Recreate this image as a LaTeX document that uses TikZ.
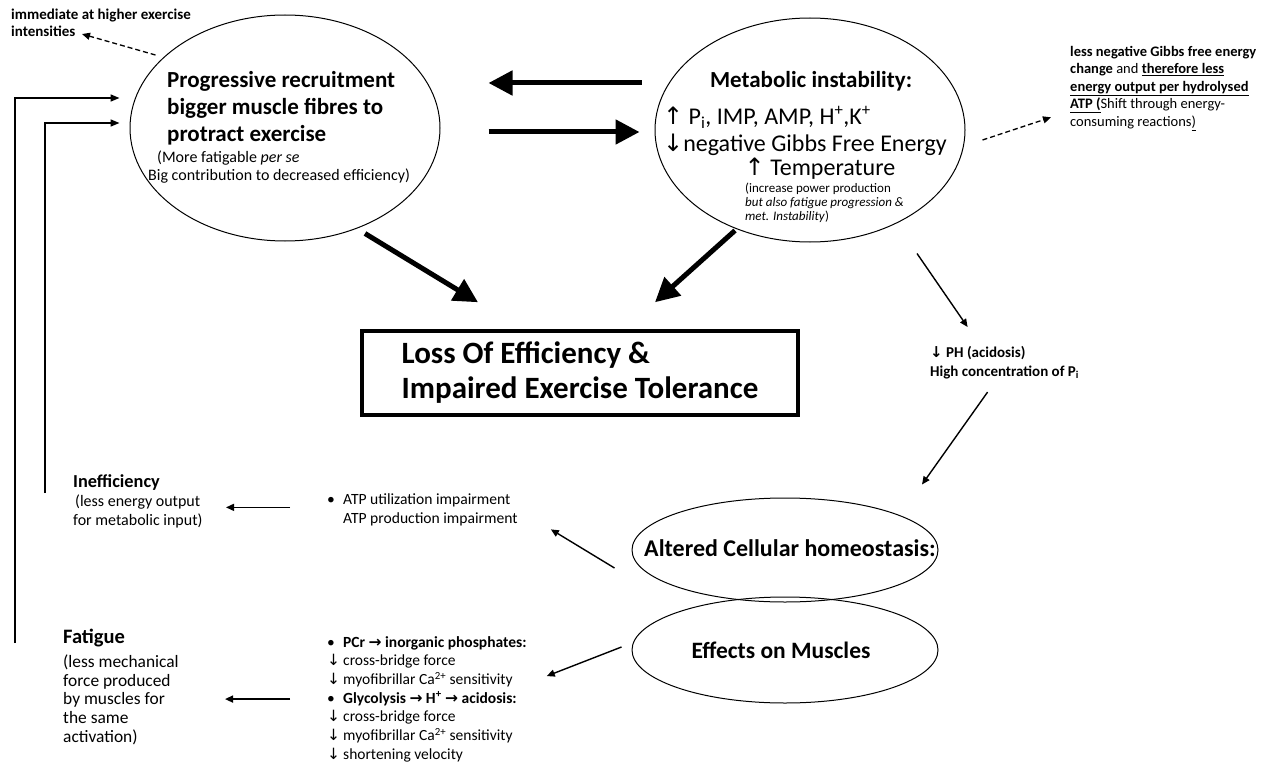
\documentclass[tikz,border=0pt]{standalone}
\usepackage{fontspec}
\setmainfont{Carlito}
\newfontfamily\symf{DejaVu Sans}
\usetikzlibrary{arrows.meta,positioning,shapes.geometric}
\newcommand{\uparr}{{\symf ↑}}
\newcommand{\dnarr}{{\symf ↓}}
\newcommand{\rtarr}{{\symf\bfseries →}}
\newcommand{\fs}[2]{\fontsize{#1}{#2}\selectfont}
\tikzset{
  oval/.style={draw, ellipse, line width=1pt, inner sep=0pt},
  lossbox/.style={draw, line width=3.5pt, inner sep=0pt, align=left},
  txt/.style={inner sep=0pt, align=left, anchor=north west},
  thickarr/.style={line width=5pt, -{Triangle[length=24pt,width=24pt]}},
  thinarr/.style={line width=1.4pt, -{Triangle[length=8pt,width=7pt]}},
  dasharr/.style={line width=1.3pt, dash pattern=on 5pt off 3pt, -{Triangle[length=8pt,width=7pt]}},
  fbline/.style={line width=1.6pt, -{Triangle[length=9pt,width=7pt]}}
}
\begin{document}
\begin{tikzpicture}[x=1pt, y=-1pt]
\useasboundingbox (0,0) rectangle (1266,765);
% upper ellipses
\node[oval, minimum width=310pt, minimum height=226pt] (prog) at (285,128) {};
\node[txt, font={\fs{23}{27}\bfseries}] (progtitle) at (167,71) {Progressive recruitment\\bigger muscle fibres to\\protract exercise};
\node[txt, font={\fs{16}{17.5}}] (progsub) at (148,151) {\hspace*{9pt}(More fatigable \textit{per se}\\Big contribution to decreased efficiency)};
\node[oval, minimum width=310pt, minimum height=224pt] (met) at (810,130) {};
\node[font={\fs{23}{26}\bfseries}, inner sep=0pt] (mettitle) at (811,81) {Metabolic instability:};
\node[txt, font={\fs{24}{27}}] (metlist) at (663,106) {\uparr{} P\textsubscript{i}, IMP, AMP, H\textsuperscript{+},K\textsuperscript{+}\\\dnarr negative Gibbs Free Energy};
\node[font={\fs{24}{26}}, inner sep=0pt] (mettemp) at (820,169) {\uparr{} Temperature};
\node[txt, font={\fs{13}{14}}] (metnote) at (745,183) {(increase power production\\\textit{but also fatigue progression \&}\\\textit{met. Instability})};
% side notes
\node[txt, font={\fs{15}{17}\bfseries}] (tl) at (11,9) {immediate at higher exercise\\intensities};
\node[txt, font={\fs{14.5}{17.5}}] (gibbs) at (1070,46) {\textbf{less negative Gibbs free energy}\\\textbf{change} and \underline{\textbf{therefore less}}\\\underline{\textbf{energy output per hydrolysed}}\\\underline{\textbf{ATP (}}Shift through energy-\\consuming reactions\underline{)}};
% centre box
\node[lossbox, minimum width=436pt, minimum height=84pt, font={\fs{31}{35}\bfseries}] (loss) at (580,373) {Loss Of Efficiency \&\\Impaired Exercise Tolerance};
\node[txt, font={\fs{15}{19}\bfseries}] (ph) at (930,346) {\dnarr{} PH (acidosis)\\High concentration of P\textsubscript{i}};
% lower ellipses
\node[oval, minimum width=306pt, minimum height=104pt] (alt) at (785,550) {};
\node[font={\fs{24}{26}\bfseries}, inner sep=0pt] (alttxt) at (790,548) {Altered Cellular homeostasis:};
\node[oval, minimum width=306pt, minimum height=106pt] (eff) at (785,650) {};
\node[font={\fs{23.5}{26}\bfseries}, inner sep=0pt] (efftxt) at (781,650) {Effects on Muscles};
% lower left texts
\node[txt, font={\fs{15.6}{19}}] (atp) at (327,493) {\makebox[16pt][l]{•}ATP utilization impairment\\\hspace*{16pt}ATP production impairment};
\node[txt, font={\fs{16}{19}}] (ineff) at (73,474) {{\fs{18.3}{19}\bfseries Inefficiency}\\\hspace*{2pt}(less energy output\\for metabolic input)};
\node[txt, font={\fs{15.5}{18.7}}] (efflist) at (327,636) {\makebox[16pt][l]{•}\textbf{PCr \rtarr{} inorganic phosphates:}\\
  \makebox[16pt][l]{\dnarr}cross-bridge force\\
  \makebox[16pt][l]{\dnarr}myofibrillar Ca\textsuperscript{2+} sensitivity\\
  \makebox[16pt][l]{•}\textbf{Glycolysis \rtarr{} H\textsuperscript{+} \rtarr{} acidosis:}\\
  \makebox[16pt][l]{\dnarr}cross-bridge force\\
  \makebox[16pt][l]{\dnarr}myofibrillar Ca\textsuperscript{2+} sensitivity\\
  \makebox[16pt][l]{\dnarr}shortening velocity};
\node[txt, font={\fs{17.4}{18.7}}] (fatigue) at (63,629) {{\fs{20.5}{19}\bfseries Fatigue}\\[5pt](less mechanical\\force produced\\by muscles for\\the same\\activation)};
% connectors
\draw[thickarr] ([shift={(-13,-47)}]met.west) -- ([shift={(48,-45)}]prog.east);
\draw[thickarr] ([shift={(48,4)}]prog.east) -- ([shift={(-15,2)}]met.west);
\draw[thickarr] ([shift={(80,-8)}]prog.south) -- ([shift={(-102,-27)}]loss.north);
\draw[thickarr] ([shift={(-75,-12)}]met.south) -- ([shift={(75,-27)}]loss.north);
\draw[dasharr] ([shift={(-2,-8)}]prog.153) -- ([shift={(71,-3)}]tl.south west);
\draw[dasharr] ([shift={(17,10)}]met.east) -- ([shift={(-19,29)}]gibbs.west);
\draw[thinarr] ([shift={(107,11)}]met.south) -- ([shift={(-37,-19)}]ph.north);
\draw[thinarr] ([shift={(-17,13)}]ph.south) -- ([shift={(137,-13)}]alt.north);
\draw[thinarr] ([shift={(-17,18)}]alt.west) -- ([shift={(33,20)}]atp.east);
\draw[thinarr] ([shift={(-10,-3)}]eff.west) -- ([shift={(20,-23)}]efflist.east);
\draw[thinarr] ([shift={(-37,-2)}]atp.west) -- ([shift={(-101,-2)}]atp.west);
\draw[thinarr] ([xshift=-37pt]efflist.west) -- ([xshift=-102pt]efflist.west);
% feedback loops
\coordinate (fatfb) at (15,643);
\coordinate (inefffb) at (45,493);
\draw[fbline] (fatfb) |- ([shift={(-10,-30)}]prog.west);
\draw[fbline] (inefffb) |- ([shift={(-10,-5)}]prog.west);
\end{tikzpicture}
\end{document}
